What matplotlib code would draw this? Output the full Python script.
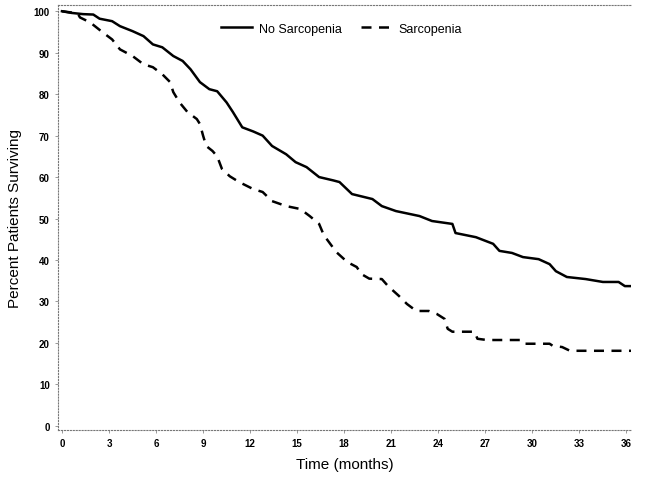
import matplotlib
matplotlib.use("Agg")
import matplotlib.pyplot as plt

plt.rcParams['font.family'] = ['Liberation Sans', 'DejaVu Sans']

# No Sarcopenia (solid) - months, percent surviving
no_sarc_t = [0, 0.6, 1.35, 2.0, 2.4, 3.2, 3.7, 4.5, 5.2, 5.8, 6.4, 7.1, 7.7, 8.2, 8.8, 9.4, 9.9,
             10.5, 10.9, 11.5, 12.2, 12.8, 13.4, 14.3, 14.9, 15.6, 16.4, 17.3, 17.7, 18.5,
             19.8, 20.4, 21.3, 22.8, 23.6, 24.9, 25.1, 26.4, 27.5, 27.9, 28.7, 29.4,
             30.4, 31.1, 31.5, 32.2, 33.4, 34.5, 35.5, 35.9, 36.3]
no_sarc_s = [100, 99.6, 99.3, 99.2, 98.2, 97.6, 96.4, 95.2, 94.0, 92.0, 91.3, 89.2, 88.0,
             86.0, 82.9, 81.2, 80.7, 78.0, 75.7, 72.0, 71.0, 70.0, 67.5, 65.5, 63.6, 62.4,
             60.0, 59.2, 58.8, 55.9, 54.7, 53.0, 51.8, 50.6, 49.4, 48.7, 46.5, 45.5, 43.9,
             42.2, 41.7, 40.7, 40.2, 39.0, 37.3, 35.9, 35.4, 34.7, 34.7, 33.7, 33.7]

# Sarcopenia (dashed)
sarc_t = [0, 1.0, 1.15, 1.8, 2.6, 3.2, 3.7, 4.5, 5.2, 5.8, 6.4, 6.9, 7.1, 7.5, 8.0, 8.6,
          8.8, 9.0, 9.2, 9.6, 9.9, 10.2, 10.7, 11.3, 12.2, 12.8, 13.4, 14.3, 15.2,
          15.8, 16.4, 16.7, 17.5, 18.2, 18.8, 19.1, 19.6, 20.4, 20.8, 21.5, 22.0,
          22.6, 23.4, 23.9, 24.4, 24.6, 24.9, 26.3, 26.5, 27.1, 29.3, 29.5, 31.1,
          31.3, 31.9, 32.4, 36.3]
sarc_s = [100, 99.5, 98.5, 97.3, 94.9, 93.2, 90.8, 89.2, 87.2, 86.5, 84.8, 82.9, 80.5,
          78.0, 75.7, 74.0, 72.8, 70.0, 67.5, 66.3, 65.0, 62.0, 60.2, 58.8, 57.1, 56.4,
          54.2, 53.0, 52.3, 50.6, 48.7, 46.0, 41.9, 39.5, 38.3, 36.6, 35.5, 35.4, 33.7,
          31.3, 29.4, 27.7, 27.7, 27.0, 25.8, 23.4, 22.7, 22.7, 21.0, 20.7, 20.7, 19.8,
          19.8, 19.3, 19.0, 18.1, 18.1]

xticks = list(range(0, 37, 3))
yticks = list(range(0, 101, 10))

fig = plt.figure(figsize=(6.52, 4.81), dpi=100)
ax = fig.add_axes([0.089, 0.104, 0.879, 0.8835])

ax.plot(no_sarc_t, no_sarc_s, color='black', lw=1.8, label='No Sarcopenia')
ax.plot(sarc_t, sarc_s, color='black', lw=1.8, linestyle=(0, (4, 3)),
        label='Sarcopenia')

ax.set_xlim(-0.25, 36.3)
ax.set_ylim(-1, 101.5)
ax.set_xticks(xticks)
ax.set_yticks(yticks)
ax.tick_params(labelsize=7, length=2, width=0.6, color='#888888', pad=4)
for lab in ax.get_xticklabels() + ax.get_yticklabels():
    lab.set_fontweight('bold')

for side in ['left', 'bottom', 'top']:
    ax.spines[side].set_linestyle(':')
    ax.spines[side].set_color('#777777')
    ax.spines[side].set_linewidth(0.8)
ax.spines['right'].set_visible(False)

ax.set_xlabel('Time (months)', fontsize=11, labelpad=6)
ax.set_ylabel('Percent Patients Surviving', fontsize=11, labelpad=8)

ax.legend(loc='upper center', bbox_to_anchor=(0.495, 0.985), ncol=2, frameon=False,
          fontsize=9, handlelength=2.5, columnspacing=1.6, handletextpad=0.5)

fig.savefig('out.png', dpi=100)
